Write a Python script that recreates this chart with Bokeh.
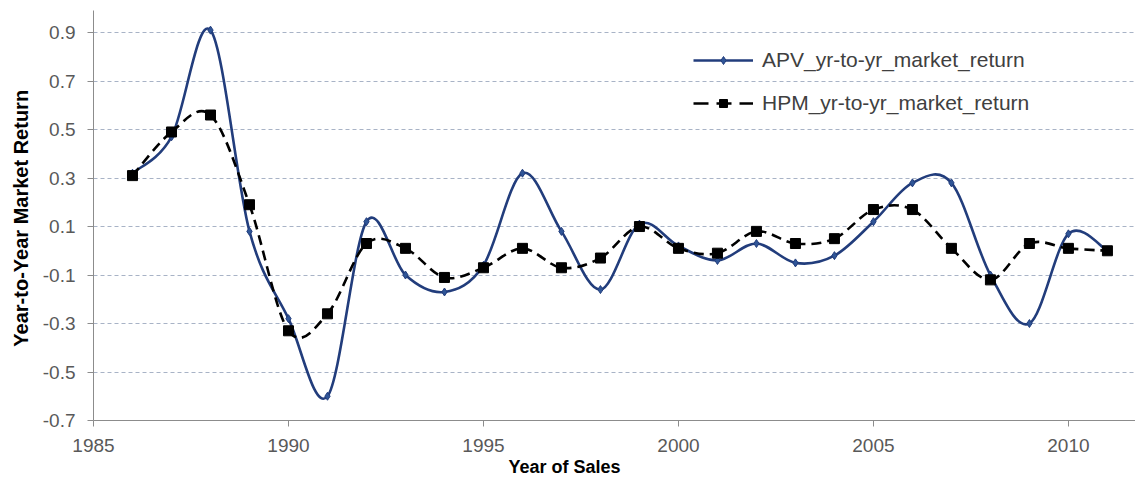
from bokeh.plotting import figure
from bokeh.models import (ColumnDataSource, FixedTicker, PrintfTickFormatter,
                          Legend, LegendItem, Range1d, Title)
from bokeh.embed import file_html
from bokeh.resources import INLINE

years = [1986, 1987, 1988, 1989, 1990, 1991, 1992, 1993, 1994, 1995, 1996, 1997, 1998,
         1999, 2000, 2001, 2002, 2003, 2004, 2005, 2006, 2007, 2008, 2009, 2010, 2011]
apv = [0.32, 0.47, 0.91, 0.08, -0.28, -0.60, 0.12, -0.10, -0.17, -0.06, 0.32, 0.08, -0.16,
       0.11, 0.02, -0.04, 0.03, -0.05, -0.02, 0.12, 0.28, 0.28, -0.10, -0.30, 0.07, 0.00]
hpm = [0.31, 0.49, 0.56, 0.19, -0.33, -0.26, 0.03, 0.01, -0.11, -0.07, 0.01, -0.07, -0.03,
       0.10, 0.01, -0.01, 0.08, 0.03, 0.05, 0.17, 0.17, 0.01, -0.12, 0.03, 0.01, 0.00]
y_ticks = [-0.7, -0.5, -0.3, -0.1, 0.1, 0.3, 0.5, 0.7, 0.9]
x_ticks = [1985, 1990, 1995, 2000, 2005, 2010]

APV_COLOR = "#223d7c"
FONT = "Liberation Sans"


def smooth_segments(xs, ys):
    """Bezier control points (Catmull-Rom style, like a smoothed line)."""
    n = len(xs)
    d = dict(x0=[], y0=[], x1=[], y1=[], cx0=[], cy0=[], cx1=[], cy1=[])
    for i in range(n - 1):
        im1 = max(i - 1, 0)
        ip2 = min(i + 2, n - 1)
        d["x0"].append(xs[i]); d["y0"].append(ys[i])
        d["x1"].append(xs[i + 1]); d["y1"].append(ys[i + 1])
        d["cx0"].append(xs[i] + (xs[i + 1] - xs[im1]) / 6.0)
        d["cy0"].append(ys[i] + (ys[i + 1] - ys[im1]) / 6.0)
        d["cx1"].append(xs[i + 1] - (xs[ip2] - xs[i]) / 6.0)
        d["cy1"].append(ys[i + 1] - (ys[ip2] - ys[i]) / 6.0)
    return ColumnDataSource(d)


p = figure(width=1135, height=480, output_backend="svg", toolbar_location=None,
           x_range=Range1d(1985, 2011.72), y_range=Range1d(-0.7, 0.991),
           min_border_left=93, min_border_right=0, min_border_top=10, min_border_bottom=60)
p.outline_line_color = None
p.background_fill_color = "white"

# smoothed lines
p.bezier(x0="x0", y0="y0", x1="x1", y1="y1", cx0="cx0", cy0="cy0", cx1="cx1", cy1="cy1",
         source=smooth_segments(years, apv), line_color=APV_COLOR, line_width=2.6)
p.bezier(x0="x0", y0="y0", x1="x1", y1="y1", cx0="cx0", cy0="cy0", cx1="cx1", cy1="cy1",
         source=smooth_segments(years, hpm), line_color="black", line_width=2.6,
         line_dash="10 6")

src = ColumnDataSource(dict(year=years, apv=apv, hpm=hpm))
apv_pts = p.scatter("year", "apv", source=src, marker="diamond", size=8,
                    fill_color="#2f5597", line_color=APV_COLOR)
hpm_pts = p.scatter("year", "hpm", source=src, marker="square", size=10,
                    fill_color="black", line_color="black")

# legend proxies (outside the visible x range)
apv_leg = p.line(x=[1900, 1901], y=[0, 0], line_color=APV_COLOR, line_width=2.6)
hpm_leg = p.line(x=[1900, 1901], y=[0, 0], line_color="black", line_width=2.6,
                 line_dash="15 8")
legend = Legend(items=[
    LegendItem(label="APV_yr-to-yr_market_return", renderers=[apv_leg, apv_pts]),
    LegendItem(label="HPM_yr-to-yr_market_return", renderers=[hpm_leg, hpm_pts]),
], location=(600, 305), margin=0, padding=0, spacing=19,
    glyph_width=60, glyph_height=20, label_height=20, label_standoff=9,
    background_fill_alpha=0, border_line_alpha=0,
    label_text_font=FONT, label_text_font_size="21px", label_text_color="#404040")
p.add_layout(legend)

# grid
p.xgrid.grid_line_color = None
p.ygrid.ticker = FixedTicker(ticks=y_ticks)
p.ygrid.grid_line_color = "#a8b3c6"
p.ygrid.grid_line_dash = "4 3"
p.ygrid.grid_line_width = 1

# axes
p.yaxis.ticker = FixedTicker(ticks=y_ticks)
p.yaxis.formatter = PrintfTickFormatter(format="%.1f")
p.xaxis.ticker = FixedTicker(ticks=x_ticks)
for ax in (p.xaxis[0], p.yaxis[0]):
    ax.axis_line_color = "#8c8c8c"
    ax.major_tick_line_color = "#8c8c8c"
    ax.major_tick_in = 0
    ax.major_tick_out = 6
    ax.minor_tick_line_color = None
    ax.major_label_text_font = FONT
    ax.major_label_text_font_size = "19px"
    ax.major_label_text_color = "#595959"
    ax.axis_label_text_font = FONT
    ax.axis_label_text_font_style = "bold"
    ax.axis_label_text_font_size = "20px"
    ax.axis_label_text_color = "black"
p.yaxis.axis_label = "Year-to-Year  Market Return"
p.xaxis.major_label_standoff = 12
p.yaxis.major_label_standoff = 12
p.yaxis.axis_label_standoff = 8

# x-axis title (Excel places it left of the frame centre)
p.add_layout(Title(text="Year of Sales", align="left", offset=415, standoff=0,
                   text_font=FONT, text_font_style="bold", text_font_size="18px",
                   text_color="black"), "below")

open("out.html", "w").write(file_html(p, INLINE))
